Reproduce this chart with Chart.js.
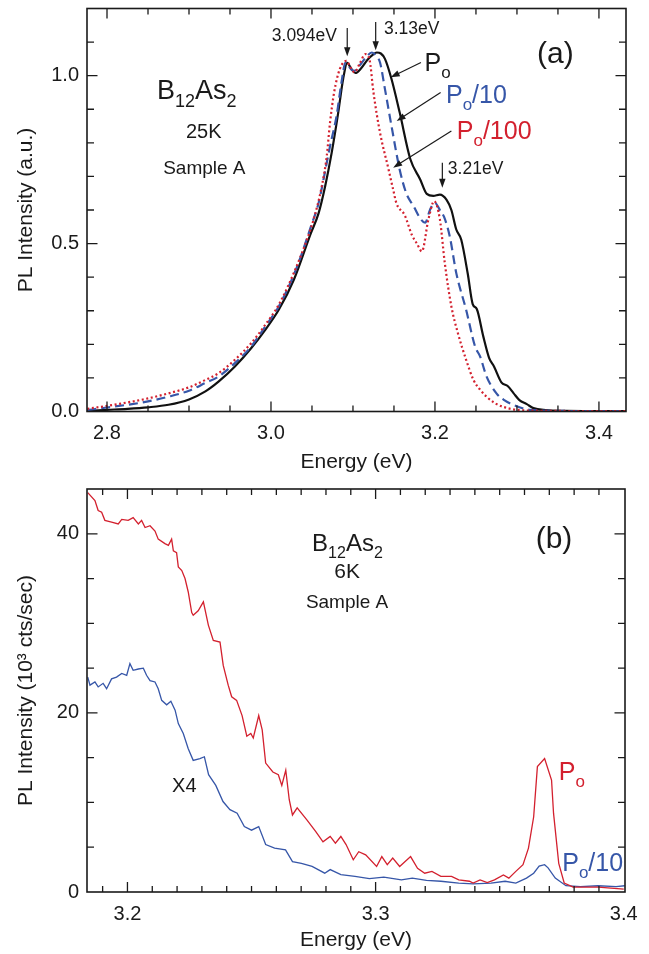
<!DOCTYPE html>
<html>
<head>
<meta charset="utf-8">
<script src="https://cdn.jsdelivr.net/npm/chart.js@4.4.1/dist/chart.umd.min.js"></script>
<style>
html, body { margin: 0; padding: 0; background: #fff; }
#wrap { position: relative; width: 649px; height: 954px; }
canvas { position: absolute; left: 0; }
#ca { top: 0; }
#cb { top: 480px; }
</style>
</head>
<body>
<div id="wrap">
  <canvas id="ca" width="649" height="480"></canvas>
  <canvas id="cb" width="649" height="474"></canvas>
</div>
<script>
// ---- panel (a): normalised PL, 25K ----
const aXTicks = [2.8, 3.0, 3.2, 3.4];
const aYTicks = [0, 0.5, 1.0];

const aPoE = [2.776, 2.80, 2.825, 2.85, 2.875, 2.90, 2.92, 2.936, 2.956, 2.976, 2.993, 3.01, 3.028, 3.048, 3.058, 3.066, 3.074, 3.082, 3.088, 3.093, 3.098, 3.103, 3.110, 3.118, 3.124, 3.129, 3.134, 3.139, 3.147, 3.157, 3.170, 3.182, 3.190, 3.198, 3.206, 3.214, 3.220, 3.226, 3.232, 3.240, 3.246, 3.251, 3.259, 3.266, 3.272, 3.281, 3.289, 3.296, 3.303, 3.312, 3.320, 3.335, 3.36, 3.40, 3.433];
const aPoI = [0.002, 0.005, 0.008, 0.0125, 0.02, 0.036, 0.06, 0.089, 0.134, 0.189, 0.243, 0.305, 0.393, 0.527, 0.59, 0.67, 0.77, 0.89, 0.99, 1.038, 1.02, 1.008, 1.022, 1.048, 1.062, 1.069, 1.066, 1.05, 0.99, 0.89, 0.751, 0.691, 0.648, 0.642, 0.646, 0.631, 0.60, 0.542, 0.512, 0.41, 0.32, 0.305, 0.223, 0.16, 0.134, 0.087, 0.075, 0.054, 0.034, 0.022, 0.01, 0.004, 0.002, 0.001, 0.001];

const aP10E = [2.776, 2.80, 2.825, 2.85, 2.875, 2.90, 2.92, 2.936, 2.956, 2.976, 2.993, 3.01, 3.03, 3.05, 3.058, 3.064, 3.072, 3.080, 3.086, 3.091, 3.096, 3.101, 3.108, 3.116, 3.123, 3.128, 3.133, 3.139, 3.147, 3.157, 3.165, 3.174, 3.182, 3.188, 3.194, 3.200, 3.206, 3.211, 3.218, 3.226, 3.238, 3.249, 3.255, 3.263, 3.275, 3.285, 3.296, 3.316, 3.35, 3.40, 3.433];
const aP10I = [0.004, 0.012, 0.02, 0.030, 0.044, 0.062, 0.085, 0.104, 0.144, 0.194, 0.253, 0.315, 0.42, 0.56, 0.62, 0.69, 0.79, 0.88, 0.98, 1.04, 1.024, 1.014, 1.03, 1.055, 1.069, 1.06, 1.039, 0.96, 0.85, 0.72, 0.65, 0.611, 0.575, 0.562, 0.601, 0.621, 0.60, 0.58, 0.522, 0.412, 0.303, 0.193, 0.164, 0.104, 0.054, 0.033, 0.019, 0.005, 0.002, 0.001, 0.001];

const aP100E = [2.776, 2.798, 2.825, 2.85, 2.875, 2.90, 2.92, 2.936, 2.956, 2.976, 2.993, 3.01, 3.03, 3.045, 3.052, 3.062, 3.068, 3.072, 3.077, 3.084, 3.092, 3.097, 3.102, 3.108, 3.115, 3.120, 3.125, 3.133, 3.143, 3.149, 3.153, 3.163, 3.172, 3.178, 3.184, 3.192, 3.199, 3.206, 3.212, 3.220, 3.228, 3.238, 3.247, 3.255, 3.263, 3.273, 3.283, 3.304, 3.34, 3.40, 3.433];
const aP100I = [0.008, 0.016, 0.027, 0.039, 0.054, 0.072, 0.094, 0.114, 0.154, 0.204, 0.258, 0.32, 0.425, 0.52, 0.572, 0.671, 0.76, 0.86, 0.95, 1.02, 1.044, 1.025, 1.01, 1.035, 1.064, 1.05, 0.95, 0.83, 0.725, 0.661, 0.62, 0.585, 0.525, 0.50, 0.477, 0.572, 0.626, 0.572, 0.442, 0.313, 0.233, 0.154, 0.094, 0.065, 0.044, 0.025, 0.014, 0.004, 0.002, 0.001, 0.001];

// ---- panel (b): PL, 6K ----
const bXTicks = [3.2, 3.3, 3.4];
const bYTicks = [0, 20, 40];

const bPoE = [3.1840, 3.1869, 3.1882, 3.1896, 3.1909, 3.1936, 3.1963, 3.1977, 3.2003, 3.2023, 3.2044, 3.2057, 3.2071, 3.2091, 3.2111, 3.2124, 3.2151, 3.2165, 3.2178, 3.2185, 3.2198, 3.2205, 3.2219, 3.2232, 3.2245, 3.2259, 3.2265, 3.2285, 3.2306, 3.2326, 3.2346, 3.2373, 3.2386, 3.2406, 3.2420, 3.2440, 3.2462, 3.2481, 3.2497, 3.2507, 3.2529, 3.2543, 3.2557, 3.2586, 3.2608, 3.2622, 3.2638, 3.2652, 3.2665, 3.2684, 3.2723, 3.2759, 3.2788, 3.2817, 3.2838, 3.2860, 3.2881, 3.2910, 3.2932, 3.2960, 3.3004, 3.3025, 3.3047, 3.3069, 3.3097, 3.3141, 3.3169, 3.3198, 3.3227, 3.3263, 3.3306, 3.3335, 3.3378, 3.3393, 3.3421, 3.3450, 3.3479, 3.3515, 3.3537, 3.3565, 3.3594, 3.3616, 3.3637, 3.3652, 3.3681, 3.3709, 3.3717, 3.3738, 3.3760, 3.3796, 3.3897, 3.4000];
const bPoI = [44.6, 43.7, 42.6, 42.4, 41.5, 41.3, 41.1, 41.6, 41.5, 41.8, 41.1, 41.5, 40.7, 40.9, 40.3, 39.4, 38.9, 38.7, 39.4, 38.1, 37.9, 36.3, 35.9, 35.0, 33.5, 31.2, 30.9, 31.4, 32.4, 29.8, 28.1, 27.9, 25.3, 23.1, 21.8, 21.4, 19.7, 17.4, 17.7, 17.2, 19.7, 18.1, 14.4, 13.4, 13.1, 11.9, 13.6, 10.3, 8.6, 9.4, 8.05, 6.75, 5.6, 6.2, 5.45, 6.2, 5.3, 3.6, 4.5, 4.15, 2.85, 3.95, 3.05, 3.8, 2.85, 3.95, 2.65, 2.1, 2.3, 1.75, 1.75, 1.35, 1.2, 1.0, 1.35, 1.05, 1.35, 1.9, 1.55, 2.3, 3.05, 4.9, 8.4, 14.0, 14.9, 12.5, 8.8, 3.2, 1.0, 0.55, 0.55, 0.33];

const bP10E = [3.1840, 3.1849, 3.1869, 3.1882, 3.1902, 3.1916, 3.1936, 3.1956, 3.1977, 3.1997, 3.2010, 3.2023, 3.2044, 3.2064, 3.2077, 3.2091, 3.2111, 3.2124, 3.2138, 3.2158, 3.2175, 3.2192, 3.2205, 3.2225, 3.2245, 3.2265, 3.2292, 3.2310, 3.2327, 3.2356, 3.2385, 3.2413, 3.2442, 3.2471, 3.2500, 3.2529, 3.2557, 3.2593, 3.2637, 3.2665, 3.2701, 3.2744, 3.2795, 3.2817, 3.2860, 3.2917, 3.2975, 3.3033, 3.3104, 3.3148, 3.3205, 3.3263, 3.3335, 3.3393, 3.3465, 3.3522, 3.3565, 3.3608, 3.3637, 3.3659, 3.3681, 3.3695, 3.3724, 3.3767, 3.3825, 3.3897, 3.3969, 3.4004];
const bP10I = [24.0, 23.1, 23.45, 22.9, 23.3, 22.7, 23.8, 24.0, 24.4, 24.2, 25.5, 24.75, 24.9, 25.0, 24.2, 23.6, 23.45, 22.7, 21.4, 20.9, 21.3, 20.3, 18.8, 17.7, 16.0, 14.7, 14.9, 15.1, 13.1, 11.9, 10.1, 9.2, 8.8, 7.3, 6.9, 7.3, 5.3, 4.9, 4.7, 3.4, 3.2, 2.85, 2.1, 2.5, 1.95, 1.75, 1.5, 1.65, 1.35, 1.55, 1.3, 1.2, 1.0, 0.9, 1.0, 1.2, 1.0, 1.55, 2.1, 2.9, 3.05, 2.7, 1.55, 0.7, 0.6, 0.7, 0.6, 0.7];

const FONT = "'Liberation Sans', Arial, sans-serif";
const INK = '#1a1a1a';
const BLUE = '#3656a8';
const RED = '#d3202e';

Chart.defaults.font.family = FONT;
Chart.defaults.color = INK;

function pts(xs, ys) {
  return xs.map((x, i) => ({ x: x, y: ys[i] }));
}

function richText(ctx, px, py, n) {
  const size = n.size, sub = Math.round(size * 0.68);
  ctx.save();
  ctx.fillStyle = n.color || INK;
  ctx.textBaseline = 'alphabetic';
  ctx.textAlign = 'left';
  const w = n.segs.map(s => {
    ctx.font = (s[1] ? sub : size) + 'px ' + FONT;
    return ctx.measureText(s[0]).width;
  });
  const total = w.reduce((a, b) => a + b, 0);
  let cx = n.align === 'center' ? px - total / 2 : n.align === 'right' ? px - total : px;
  n.segs.forEach((s, i) => {
    ctx.font = (s[1] ? sub : size) + 'px ' + FONT;
    ctx.fillText(s[0], cx, py + (s[1] ? size * 0.28 : 0));
    cx += w[i];
  });
  ctx.restore();
}

function arrow(ctx, x1, y1, x2, y2) {
  const ang = Math.atan2(y2 - y1, x2 - x1), L = 9, W = 3.2;
  ctx.beginPath();
  ctx.moveTo(x1, y1);
  ctx.lineTo(x2 - L * 0.7 * Math.cos(ang), y2 - L * 0.7 * Math.sin(ang));
  ctx.lineWidth = 1.2;
  ctx.stroke();
  ctx.beginPath();
  ctx.moveTo(x2, y2);
  ctx.lineTo(x2 - L * Math.cos(ang) + W * Math.sin(ang), y2 - L * Math.sin(ang) - W * Math.cos(ang));
  ctx.lineTo(x2 - L * Math.cos(ang) - W * Math.sin(ang), y2 - L * Math.sin(ang) + W * Math.cos(ang));
  ctx.closePath();
  ctx.fill();
}

// inward ticks on all four sides, frame, arrows and labels
const deco = {
  id: 'deco',
  afterDraw(chart, args, o) {
    const { ctx, chartArea: a, scales: { x, y } } = chart;
    const isMajor = (list, v) => list.some(t => Math.abs(t - v) < 1e-6);
    ctx.save();
    ctx.strokeStyle = INK;
    ctx.fillStyle = INK;
    ctx.lineWidth = 1.3;
    ctx.beginPath();
    for (let i = Math.ceil(x.min / o.minorX); i * o.minorX <= x.max; i++) {
      const v = i * o.minorX, p = x.getPixelForValue(v);
      if (p - a.left < 2 || a.right - p < 2) continue;
      const len = isMajor(o.majorX, v) ? 10 : 6;
      ctx.moveTo(p, a.bottom); ctx.lineTo(p, a.bottom - len);
      ctx.moveTo(p, a.top); ctx.lineTo(p, a.top + len);
    }
    for (let i = Math.ceil(y.min / o.minorY); i * o.minorY <= y.max + 1e-9; i++) {
      const v = i * o.minorY, p = y.getPixelForValue(v);
      if (p - a.top < 2 || a.bottom - p < 2) continue;
      const len = isMajor(o.majorY, v) ? 10.5 : 7;
      ctx.moveTo(a.left, p); ctx.lineTo(a.left + len, p);
      ctx.moveTo(a.right, p); ctx.lineTo(a.right - len, p);
    }
    ctx.stroke();
    ctx.lineWidth = 1.6;
    ctx.strokeRect(a.left, a.top, a.width, a.height);
    o.arrows.forEach(r => arrow(ctx, x.getPixelForValue(r[0]), y.getPixelForValue(r[1]), x.getPixelForValue(r[2]), y.getPixelForValue(r[3])));
    o.notes.forEach(n => richText(ctx, x.getPixelForValue(n.x), y.getPixelForValue(n.y), n));
    ctx.restore();
  }
};

function axes(xr, yr, xTicks, yTicks, xDec, yDec, xH, xTitle, yTitle, xTitlePad) {
  return {
    x: {
      type: 'linear', min: xr[0], max: xr[1],
      afterBuildTicks: s => { s.ticks = xTicks.map(v => ({ value: v })); },
      afterFit: s => { s.height = xH; s.paddingLeft = 0; s.paddingRight = 0; },
      ticks: { callback: v => v.toFixed(xDec), font: { size: 20 }, color: INK, padding: 10, maxRotation: 0, autoSkip: false },
      grid: { display: false, drawTicks: false },
      border: { display: false },
      title: { display: true, text: xTitle, font: { size: 21 }, color: INK, padding: { top: xTitlePad, bottom: xTitlePad } }
    },
    y: {
      min: yr[0], max: yr[1],
      afterBuildTicks: s => { s.ticks = yTicks.map(v => ({ value: v })); },
      afterFit: s => { s.width = 87; s.paddingTop = 0; s.paddingBottom = 0; },
      ticks: { callback: v => v.toFixed(yDec), font: { size: 20 }, color: INK, padding: 8 },
      grid: { display: false, drawTicks: false },
      border: { display: false },
      title: { display: true, text: yTitle, font: { size: 21 }, color: INK, padding: { top: 14, bottom: 14 } }
    }
  };
}

new Chart(document.getElementById('ca'), {
  type: 'line',
  data: {
    datasets: [
      { data: pts(aP100E, aP100I), borderColor: RED, borderWidth: 2.2, borderDash: [2, 2.6] },
      { data: pts(aP10E, aP10I), borderColor: BLUE, borderWidth: 2.2, borderDash: [9, 5] },
      { data: pts(aPoE, aPoI), borderColor: '#111', borderWidth: 2.2 }
    ]
  },
  options: {
    responsive: false,
    animation: false,
    layout: { padding: { left: 0, right: 23, top: 8.5, bottom: 0 } },
    elements: { point: { radius: 0 }, line: { cubicInterpolationMode: 'monotone', fill: false } },
    scales: axes([2.7756, 3.433], [0, 1.2], aXTicks, aYTicks, 1, 1, 68.5, 'Energy (eV)', 'PL Intensity (a.u.)', 5),
    plugins: {
      legend: { display: false },
      tooltip: { enabled: false },
      deco: {
        minorX: 0.05, majorX: aXTicks, minorY: 0.1, majorY: aYTicks,
        arrows: [
          [3.093, 1.142, 3.093, 1.058],
          [3.1277, 1.160, 3.1277, 1.076],
          [3.1829, 1.039, 3.146, 0.995],
          [3.2069, 0.950, 3.1533, 0.865],
          [3.220, 0.835, 3.149, 0.726],
          [3.209, 0.741, 3.209, 0.666]
        ],
        notes: [
          { x: 3.0805, y: 1.1045, segs: [['3.094eV']], size: 17.5, align: 'right' },
          { x: 3.1378, y: 1.124, segs: [['3.13eV']], size: 17.5 },
          { x: 3.1873, y: 1.014, segs: [['P'], ['o', 1]], size: 25 },
          { x: 3.2134, y: 0.92, segs: [['P'], ['o', 1], ['/10']], size: 25, color: BLUE },
          { x: 3.2266, y: 0.81, segs: [['P'], ['o', 1], ['/100']], size: 25, color: RED },
          { x: 3.2157, y: 0.706, segs: [['3.21eV']], size: 17.5 },
          { x: 3.3244, y: 1.037, segs: [['(a)']], size: 30 },
          { x: 2.861, y: 0.93, segs: [['B'], ['12', 1], ['As'], ['2', 1]], size: 27 },
          { x: 2.918, y: 0.8155, segs: [['25K']], size: 20, align: 'center' },
          { x: 2.9187, y: 0.706, segs: [['Sample A']], size: 19, align: 'center' }
        ]
      }
    }
  },
  plugins: [deco]
});

new Chart(document.getElementById('cb'), {
  type: 'line',
  data: {
    datasets: [
      { data: pts(bPoE, bPoI), borderColor: RED, borderWidth: 1.3 },
      { data: pts(bP10E, bP10I), borderColor: BLUE, borderWidth: 1.3 }
    ]
  },
  options: {
    responsive: false,
    animation: false,
    layout: { padding: { left: 0, right: 24, top: 9, bottom: 0 } },
    elements: { point: { radius: 0 }, line: { tension: 0, fill: false } },
    scales: axes([3.1837, 3.4005], [0, 45], bXTicks, bYTicks, 1, 0, 62, 'Energy (eV)', 'PL Intensity (10\u00b3 cts/sec)', 1),
    plugins: {
      legend: { display: false },
      tooltip: { enabled: false },
      deco: {
        minorX: 0.01, majorX: bXTicks, minorY: 5, majorY: bYTicks,
        arrows: [],
        notes: [
          { x: 3.2744, y: 38.1, segs: [['B'], ['12', 1], ['As'], ['2', 1]], size: 24 },
          { x: 3.2885, y: 35.1, segs: [['6K']], size: 21, align: 'center' },
          { x: 3.2885, y: 31.7, segs: [['Sample A']], size: 19, align: 'center' },
          { x: 3.3645, y: 38.45, segs: [['(b)']], size: 30 },
          { x: 3.218, y: 11.2, segs: [['X4']], size: 20 },
          { x: 3.3738, y: 12.5, segs: [['P'], ['o', 1]], size: 25, color: RED },
          { x: 3.3752, y: 2.3, segs: [['P'], ['o', 1], ['/10']], size: 25, color: BLUE }
        ]
      }
    }
  },
  plugins: [deco]
});
</script>
</body>
</html>
